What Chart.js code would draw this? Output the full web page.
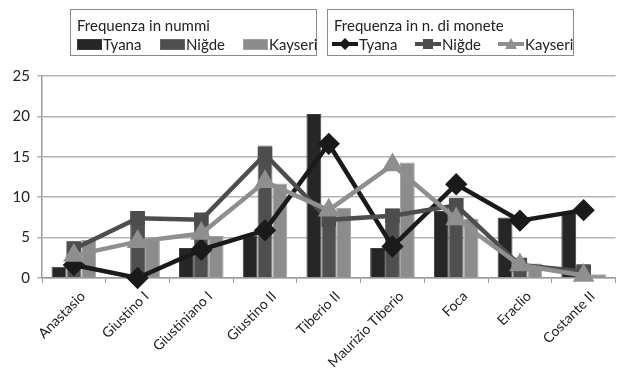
<!DOCTYPE html>
<html>
<head>
<meta charset="utf-8">
<script src="https://cdn.jsdelivr.net/npm/chart.js@4/dist/chart.umd.min.js"></script>
<style>
  html, body { margin: 0; padding: 0; background: #fff; }
  #wrap { position: relative; width: 628px; height: 375px; overflow: hidden; font-family: Lato, "Open Sans", sans-serif; }
  #c { position: absolute; left: 0; top: 0; }
  .lg { position: absolute; top: 9px; width: 247px; height: 47px; border: 1.5px solid #8a8a8a; box-sizing: border-box; background: #fff; color: #222; font-size: 15px; }
  .lg .t { position: absolute; left: 6px; top: 6px; white-space: nowrap; }
  .lg .it { position: absolute; top: 25px; white-space: nowrap; display: flex; align-items: center; }
  .sw { display: inline-block; width: 23px; height: 9px; margin-right: 1px; }
</style>
</head>
<body>
<div id="wrap">
  <canvas id="c" width="628" height="375"></canvas>
  <div class="lg" style="left:70px;">
    <div class="t">Frequenza in nummi</div>
    <div class="it" style="left:6px;"><span class="sw" style="background:#262626;border:1px solid #3a3a3a"></span>Tyana</div>
    <div class="it" style="left:89px;"><span class="sw" style="background:#4f4f4f;border:1px solid #666"></span>Niğde</div>
    <div class="it" style="left:172px;"><span class="sw" style="background:#8c8c8c;border:1px solid #a0a0a0"></span>Kayseri</div>
  </div>
  <div class="lg" style="left:327px;">
    <div class="t">Frequenza in n. di monete</div>
    <div class="it" style="left:3px;"><svg width="28" height="14"><line x1="1" y1="7" x2="27" y2="7" stroke="#1a1a1a" stroke-width="4"/><polygon points="14,1 20,7 14,13 8,7" fill="#1a1a1a"/></svg>Tyana</div>
    <div class="it" style="left:86px;"><svg width="28" height="14"><line x1="1" y1="7" x2="27" y2="7" stroke="#4d4d4d" stroke-width="4"/><rect x="9" y="2" width="10" height="10" fill="#4d4d4d"/></svg>Niğde</div>
    <div class="it" style="left:169px;"><svg width="28" height="14"><line x1="1" y1="7" x2="27" y2="7" stroke="#8f8f8f" stroke-width="4"/><polygon points="14,1 20,12 8,12" fill="#8f8f8f"/></svg>Kayseri</div>
  </div>
</div>
<script>
const categories = ["Anastasio", "Giustino I", "Giustiniano I", "Giustino II", "Tiberio II", "Maurizio Tiberio", "Foca", "Eraclio", "Costante II"];
const nummiTyana   = [1.4, 0, 3.7, 5.3, 20.3, 3.7, 8.3, 7.5, 8.1];
const nummiNigde   = [4.6, 8.3, 7.8, 16.4, 8.2, 8.6, 9.9, 2.0, 1.6];
const nummiKayseri = [4.7, 4.8, 5.2, 11.7, 8.7, 14.3, 7.3, 1.8, 0.45];
const moneteTyana   = [1.6, 0, 3.5, 5.9, 16.6, 3.9, 11.6, 7.1, 8.4];
const moneteNigde   = [3.6, 7.4, 7.2, 15.3, 7.2, 7.7, 9.0, 1.6, 0.8];
const moneteKayseri = [2.8, 4.5, 5.5, 11.9, 8.4, 14.0, 7.3, 1.6, 0.3];
const yTicks = [0, 5, 10, 15, 20, 25];

const xFont = { family: 'Lato, "Open Sans", sans-serif', size: 14 };
const yFont = { family: 'Lato, "Open Sans", sans-serif', size: 15 };

function barDs(label, data, bg, border) {
  return { type: 'bar', label, data, backgroundColor: bg, borderColor: border, borderWidth: 1, order: 2,
           categoryPercentage: 0.7, barPercentage: 1.0 };
}
function lineDs(label, data, color, style, radius) {
  return { type: 'line', label, data, borderColor: color, backgroundColor: color, borderWidth: 4.5,
           pointStyle: style, pointRadius: radius, pointHoverRadius: radius, pointBorderColor: color,
           pointBackgroundColor: color, tension: 0, order: 1, clip: false };
}

new Chart(document.getElementById('c'), {
  type: 'bar',
  data: {
    labels: categories,
    datasets: [
      barDs('Tyana', nummiTyana, '#262626', '#3c3c3c'),
      barDs('Niğde', nummiNigde, '#4f4f4f', '#686868'),
      barDs('Kayseri', nummiKayseri, '#8c8c8c', '#a2a2a2'),
      lineDs('Kayseri', moneteKayseri, '#8f8f8f', 'triangle', 8),
      lineDs('Niğde', moneteNigde, '#4d4d4d', 'rect', 7),
      lineDs('Tyana', moneteTyana, '#1a1a1a', 'rectRot', 8)
    ]
  },
  options: {
    responsive: false,
    animation: false,
    devicePixelRatio: 1,
    layout: { padding: { top: 76, right: 1, left: 0, bottom: 0 } },
    plugins: { legend: { display: false }, tooltip: { enabled: false } },
    scales: {
      x: {
        offset: true,
        grid: { display: true, drawOnChartArea: false, tickLength: 5, color: '#9a9a9a', offset: true },
        border: { color: '#9a9a9a', width: 1.5 },
        ticks: { font: xFont, color: '#222', minRotation: 45, maxRotation: 45, autoSkip: false, padding: 5, labelOffset: 9 },
        afterFit(s) { s.height = 97; }
      },
      y: {
        min: 0, max: 25,
        afterBuildTicks(s) { s.ticks = yTicks.map(v => ({ value: v })); },
        grid: { color: '#b4b4b4', lineWidth: 1.5, tickLength: 5 },
        border: { color: '#9a9a9a', width: 1.5 },
        ticks: { font: yFont, color: '#222', padding: 7 },
        afterFit(s) { s.width = 42; }
      }
    }
  }
});
</script>
</body>
</html>
